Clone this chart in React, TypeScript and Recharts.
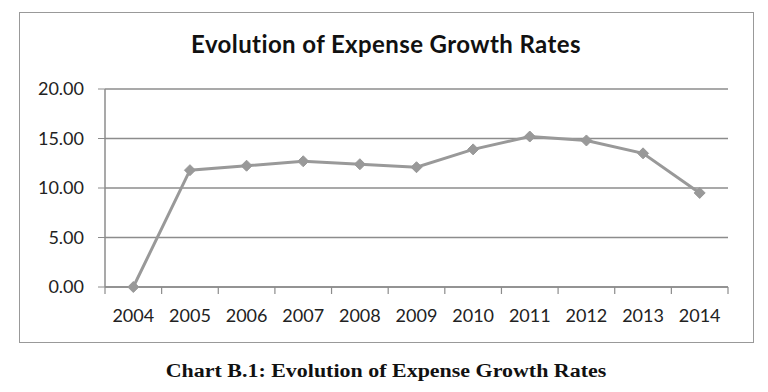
import { LineChart, Line, XAxis, YAxis, CartesianGrid } from "recharts";

const YEARS = ["2004", "2005", "2006", "2007", "2008", "2009", "2010", "2011", "2012", "2013", "2014"];
const GROWTH = [0, 11.8, 12.25, 12.7, 12.4, 12.1, 13.9, 15.2, 14.8, 13.5, 9.5];
const Y_TICKS = [0, 5, 10, 15, 20];

const data = YEARS.map((year, i) => ({ year, growth: GROWTH[i] }));

const GRID = "#8c8c8c";
const LINE = "#999999";
const FONT = "Lato, 'Open Sans', sans-serif";

const CHART_W = 768;
const MARGIN = { top: 89, right: 40, bottom: 75, left: 0 };
const Y_AXIS_W = 105;
const X_TICK_SIZE = 6;
const X_TICK_MARGIN = 16;
const HALF_BAND = (CHART_W - MARGIN.left - MARGIN.right - Y_AXIS_W) / YEARS.length / 2;

function Diamond(props: any) {
    const { cx, cy } = props;
    if (cx == null || cy == null) return null;
    const r = 5.5;
    return (
        <polygon
            points={`${cx},${cy - r} ${cx + r},${cy} ${cx},${cy + r} ${cx - r},${cy}`}
            fill={LINE}
            stroke={LINE}
        />
    );
}

// Excel style: labels centred in the band, tick marks on the band edges
function YearTick(props: any) {
    const { x, y, payload, index, visibleTicksCount } = props;
    const axisY = y - X_TICK_SIZE - X_TICK_MARGIN;
    const last = index === visibleTicksCount - 1;
    return (
        <g>
            <line x1={x - HALF_BAND} y1={axisY} x2={x - HALF_BAND} y2={axisY + 7} stroke={GRID} strokeWidth={1.2} />
            {last && (
                <line x1={x + HALF_BAND} y1={axisY} x2={x + HALF_BAND} y2={axisY + 7} stroke={GRID} strokeWidth={1.2} />
            )}
            <text x={x} y={y} dy="0.71em" textAnchor="middle" fill="#222" fontSize={18} fontFamily={FONT}>
                {payload.value}
            </text>
        </g>
    );
}

export default function App() {
    return (
        <div style={{ position: "absolute", left: 0, top: 0, width: 768, height: 392, background: "#fff" }}>
            <div
                style={{
                    position: "absolute",
                    left: 19,
                    top: 12,
                    width: 733,
                    height: 329,
                    border: "1px solid #999",
                }}
            />
            <div
                style={{
                    position: "absolute",
                    left: 189,
                    width: 394,
                    top: 29,
                    textAlign: "center",
                    fontFamily: FONT,
                    fontWeight: 700,
                    fontSize: 24,
                    letterSpacing: 0.4,
                    whiteSpace: "nowrap",
                    color: "#111",
                }}
            >
                Evolution of Expense Growth Rates
            </div>
            <div style={{ position: "absolute", left: 0, top: 0 }}>
                <LineChart width={CHART_W} height={392} data={data} margin={MARGIN}>
                    <CartesianGrid vertical={false} stroke={GRID} strokeWidth={1.5} />
                    <XAxis
                        dataKey="year"
                        scale="band"
                        height={30}
                        axisLine={{ stroke: GRID, strokeWidth: 1.5 }}
                        tickLine={false}
                        tickSize={X_TICK_SIZE}
                        tickMargin={X_TICK_MARGIN}
                        tick={<YearTick />}
                        interval={0}
                    />
                    <YAxis
                        width={Y_AXIS_W}
                        domain={[0, 20]}
                        ticks={Y_TICKS}
                        tickFormatter={(v: number) => v.toFixed(2)}
                        axisLine={{ stroke: GRID, strokeWidth: 1.5 }}
                        tickLine={{ stroke: GRID }}
                        tickSize={7}
                        tickMargin={14}
                        tick={{ fill: "#222", fontSize: 18, fontFamily: FONT }}
                    />
                    <Line
                        type="linear"
                        dataKey="growth"
                        stroke={LINE}
                        strokeWidth={3}
                        dot={<Diamond />}
                        activeDot={false}
                        isAnimationActive={false}
                    />
                </LineChart>
            </div>
            <div
                style={{
                    position: "absolute",
                    left: 163,
                    width: 446,
                    top: 361,
                    textAlign: "center",
                    whiteSpace: "nowrap",
                    fontFamily: "'Liberation Serif', 'Times New Roman', serif",
                    fontWeight: 700,
                    fontSize: 18,
                    color: "#111",
                    transform: "scaleX(1.22)",
                    transformOrigin: "center",
                }}
            >
                Chart B.1: Evolution of Expense Growth Rates
            </div>
        </div>
    );
}
